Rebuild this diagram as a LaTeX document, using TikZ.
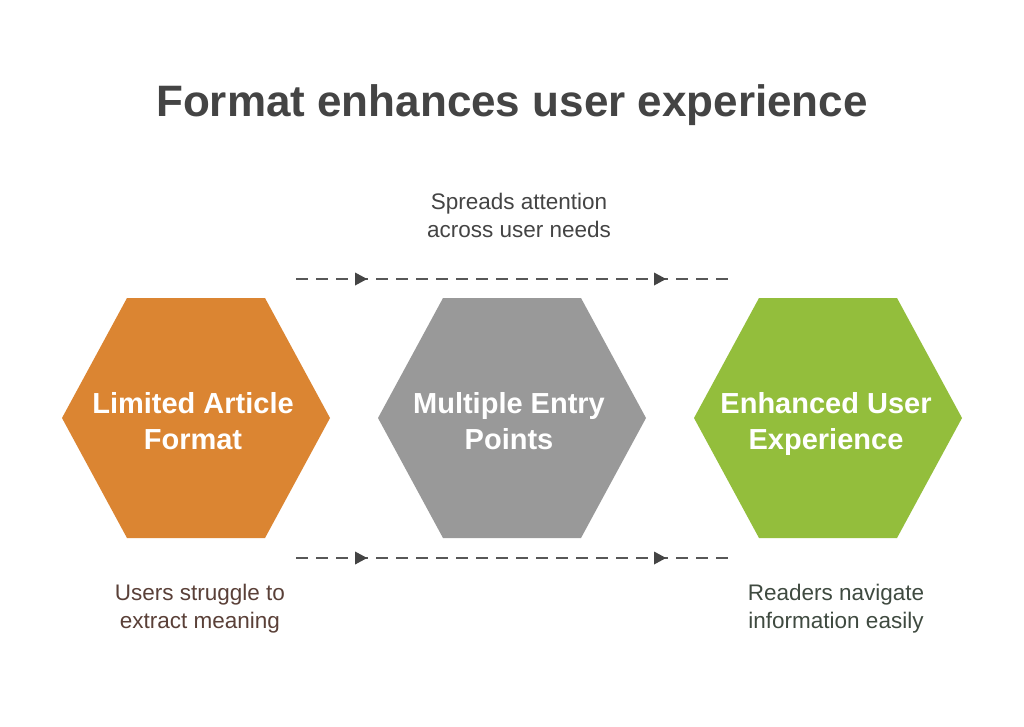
\documentclass[tikz,border=0pt]{standalone}
\usepackage{fontspec}
\setmainfont{Liberation Sans}
\usetikzlibrary{arrows.meta,decorations.markings}
\definecolor{hor}{HTML}{DB8532}
\definecolor{hgr}{HTML}{999999}
\definecolor{hgn}{HTML}{93BE3C}
\definecolor{tx}{HTML}{444444}
\definecolor{txb}{HTML}{5A4038}
\definecolor{txg}{HTML}{3F4A40}
\tikzset{
 hexlabel/.style={text=white,font=\bfseries\fontsize{29}{36}\selectfont,align=center},
 note/.style={font=\fontsize{22.5}{28}\selectfont,align=center},
 flow/.style={draw=tx!90,line width=2.5pt,dash pattern=on 12pt off 8pt,
   postaction={decorate},decoration={markings,
   mark=at position 0.153 with {\fill[tx] (5pt,0)--(-7pt,6.5pt)--(-7pt,-6.5pt)--cycle;},
   mark=at position 0.845 with {\fill[tx] (5pt,0)--(-7pt,6.5pt)--(-7pt,-6.5pt)--cycle;}}}
}
\newcommand{\hexat}[3]{\fill[#3] (#1-134,#2)--(#1-69,#2-120)--(#1+69,#2-120)--(#1+134,#2)--(#1+69,#2+120)--(#1-69,#2+120)--cycle;}
\begin{document}
\begin{tikzpicture}[x=1pt,y=-1pt]
\useasboundingbox[fill=white] (0,0) rectangle (1024,726);
\node[font=\bfseries\fontsize{44}{50}\selectfont,text=tx] (title) at (512,105) {Format enhances user experience};
\hexat{196}{418}{hor}
\hexat{512}{418}{hgr}
\hexat{828}{418}{hgn}
\node[hexlabel] (a) at (193,424) {\strut Limited Article\\\strut Format};
\node[hexlabel] (b) at (509,424) {\strut Multiple Entry\\\strut Points};
\node[hexlabel] (c) at (826,424) {\strut Enhanced User\\\strut Experience};
\coordinate (t1) at (296,279); \coordinate (t2) at (728,279);
\coordinate (b1) at (296,558); \coordinate (b2) at (728,558);
\draw[flow] (t1) -- (t2);
\draw[flow] (b1) -- (b2);
\node[note,text=tx] (n1) at (519,218) {\strut Spreads attention\\\strut across user needs};
\node[note,text=txb] (n2) at (200,609) {\strut Users struggle to\\\strut extract meaning};
\node[note,text=txg] (n3) at (836,609) {\strut Readers navigate\\\strut information easily};
\end{tikzpicture}
\end{document}
